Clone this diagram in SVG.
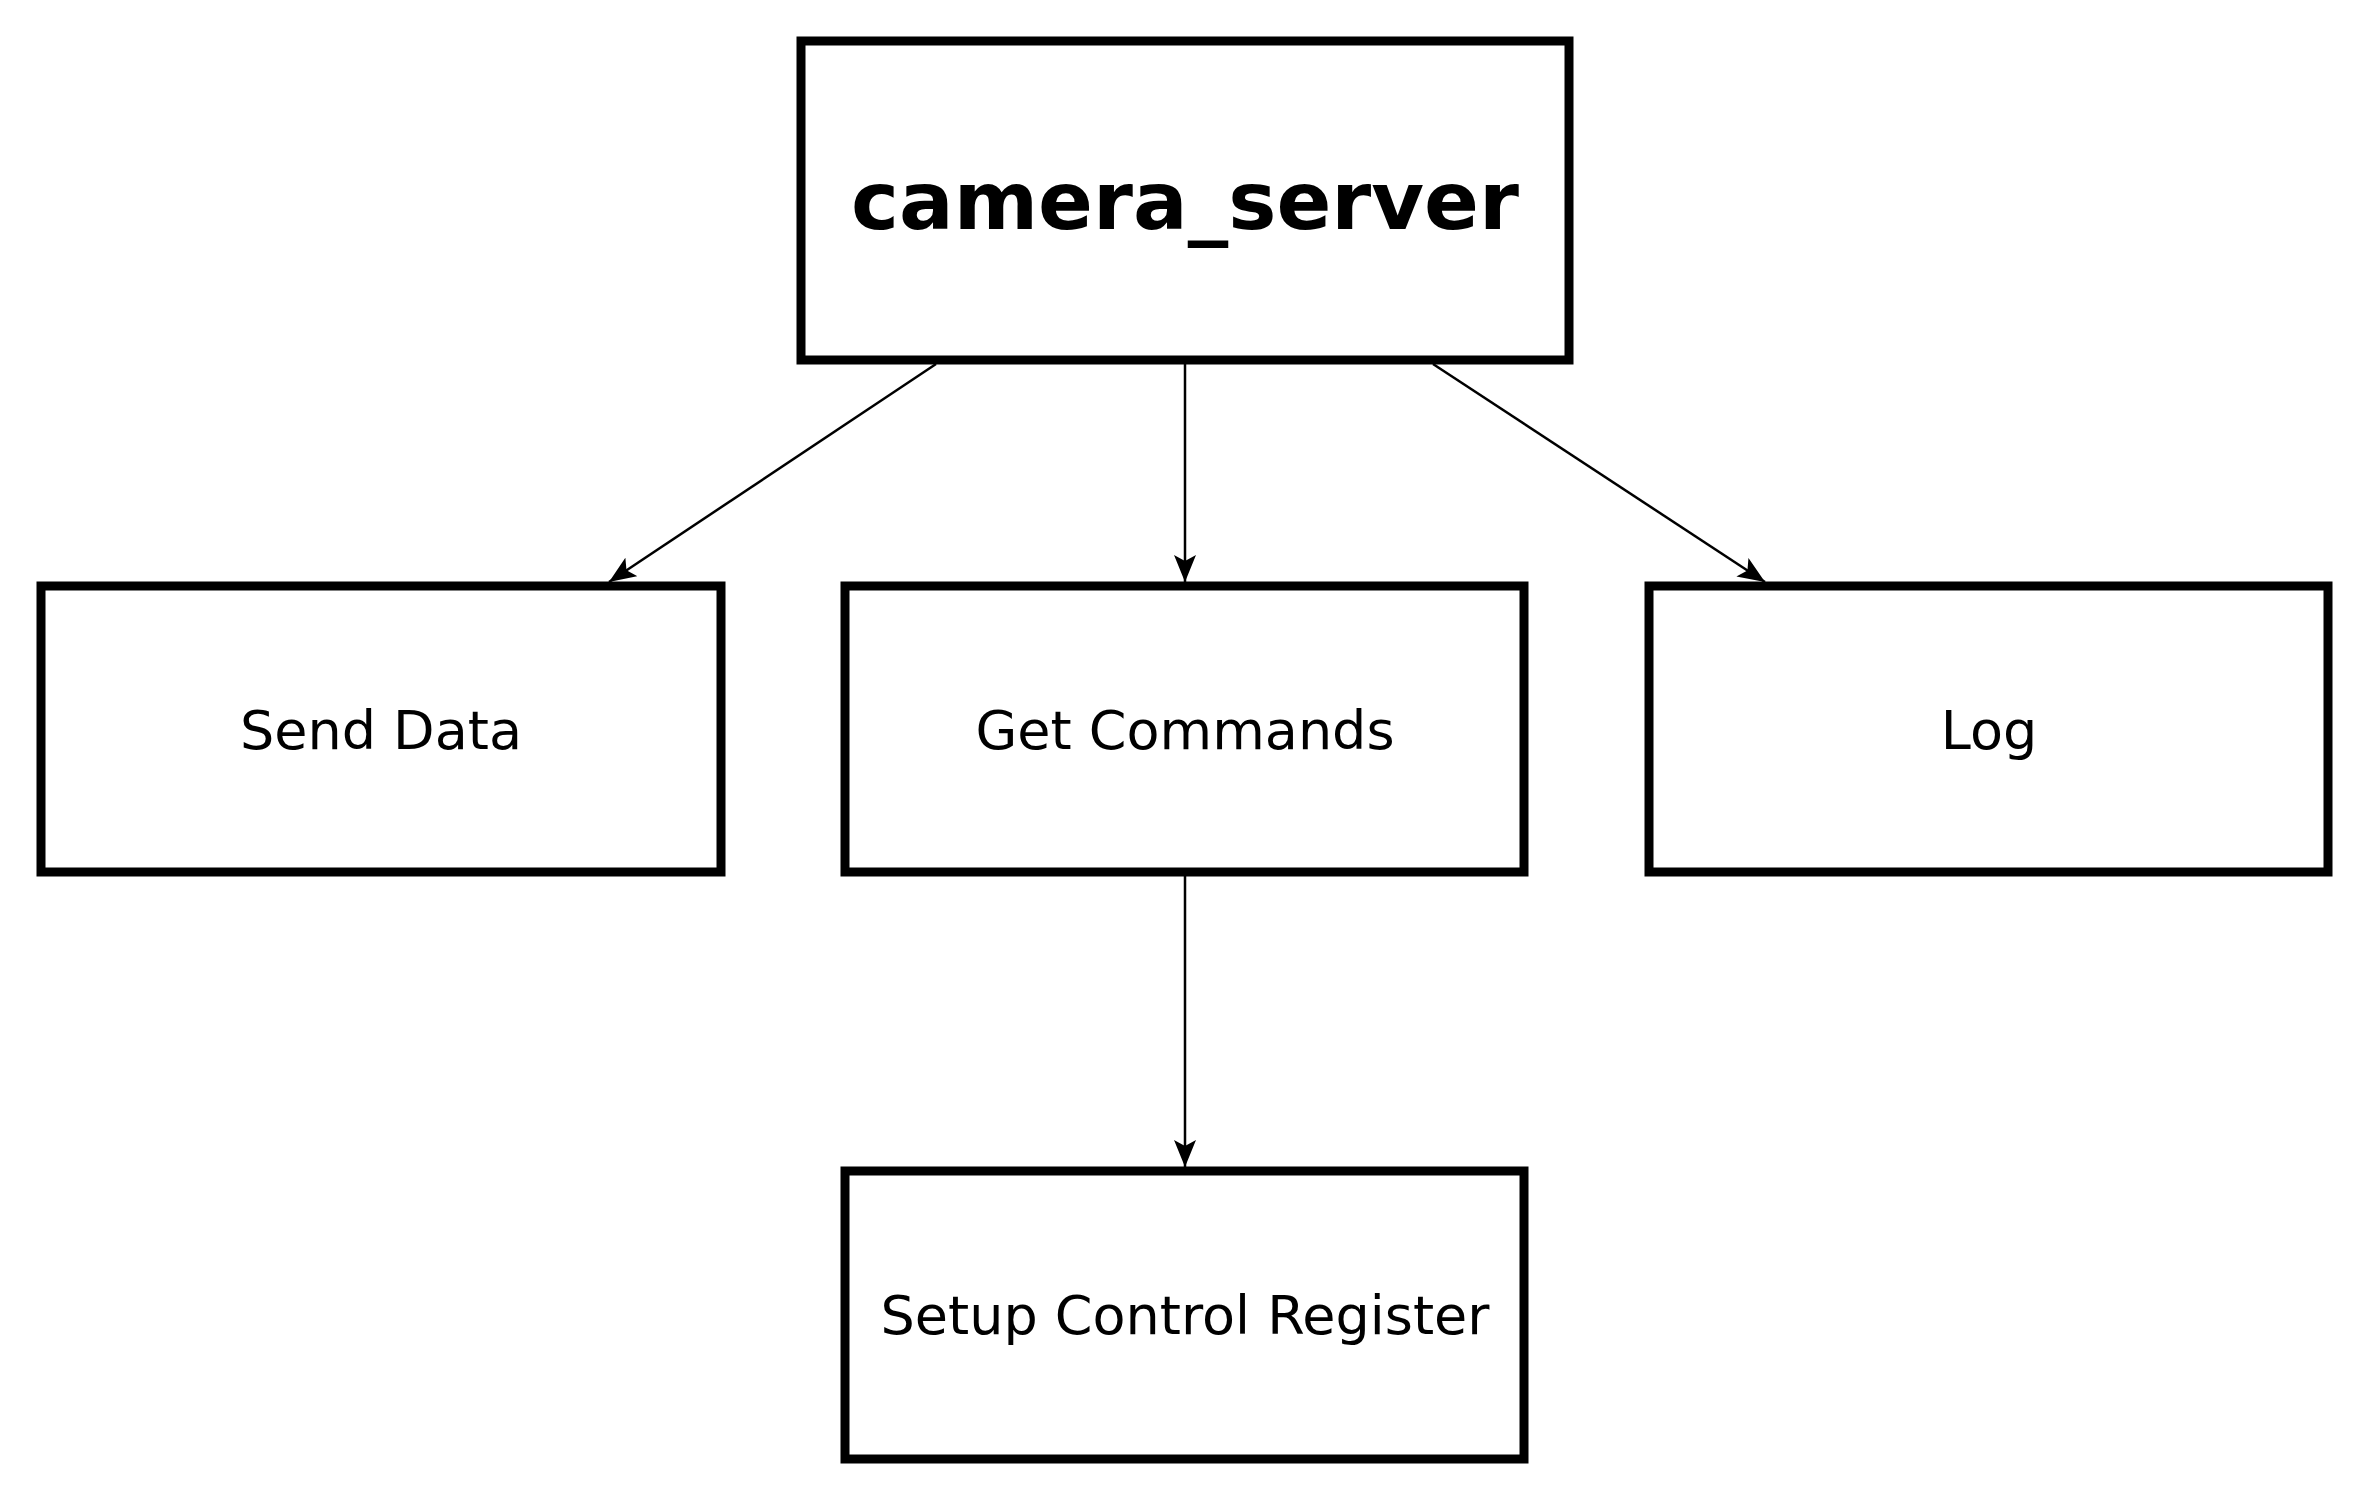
<svg xmlns="http://www.w3.org/2000/svg" width="2370" height="1500" viewBox="0 0 2370 1500">
<style>
.box{fill:#fff;stroke:#000;stroke-width:9}
.lbl{font-family:"DejaVu Sans",sans-serif;font-size:54px;text-anchor:middle;fill:#000}
.title{font-family:"DejaVu Sans",sans-serif;font-size:81px;font-weight:bold;text-anchor:middle;fill:#000}
.edge{stroke:#000;stroke-width:2.5;fill:none}
</style>
<defs>
<marker id="arr" markerUnits="userSpaceOnUse" markerWidth="32" markerHeight="26" refX="27" refY="11" orient="auto" viewBox="0 0 32 26">
<path d="M27,11 L0,0 L6,11 L0,22 Z" fill="#000"/>
</marker>
</defs>
<rect width="2370" height="1500" fill="#fff"/>
<g id="connectors">
<line class="edge" x1="936" y1="364" x2="609" y2="582" marker-end="url(#arr)"/>
<line class="edge" x1="1185" y1="364" x2="1185" y2="582" marker-end="url(#arr)"/>
<line class="edge" x1="1433" y1="364" x2="1765" y2="582" marker-end="url(#arr)"/>
<line class="edge" x1="1185" y1="876" x2="1185" y2="1167" marker-end="url(#arr)"/>
</g>
<g id="camera_server">
<rect class="box" x="801" y="41" width="768" height="319"/>
<text class="title" x="1185" y="229">camera_server</text>
</g>
<g id="send_data">
<rect class="box" x="41" y="586" width="680" height="286"/>
<text class="lbl" x="381" y="749">Send Data</text>
</g>
<g id="get_commands">
<rect class="box" x="845" y="586" width="679" height="286"/>
<text class="lbl" x="1185" y="749">Get Commands</text>
</g>
<g id="log">
<rect class="box" x="1649" y="586" width="679" height="286"/>
<text class="lbl" x="1989" y="749">Log</text>
</g>
<g id="setup_control_register">
<rect class="box" x="845" y="1171" width="679" height="288"/>
<text class="lbl" x="1185" y="1334">Setup Control Register</text>
</g>
</svg>
